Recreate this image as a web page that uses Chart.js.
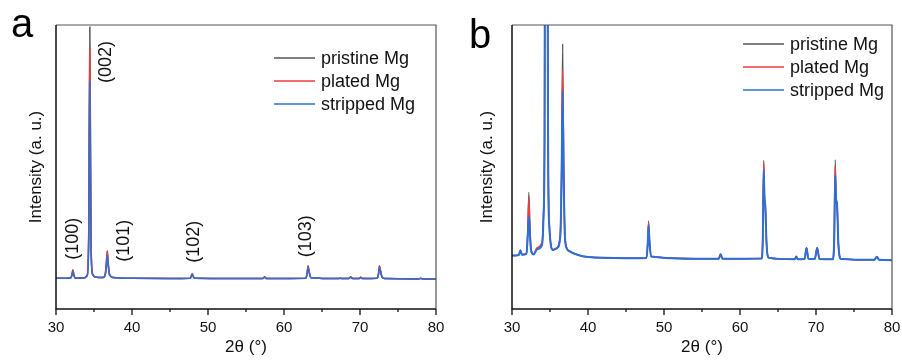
<!DOCTYPE html>
<html>
<head>
<meta charset="utf-8">
<script src="https://cdn.jsdelivr.net/npm/chart.js@4.4.1/dist/chart.umd.min.js"></script>
<style>
	html, body { margin: 0; padding: 0; background: #fff; }
	#wrap { position: relative; width: 902px; height: 360px; }
	.panel { position: absolute; top: 0; width: 451px; height: 360px; }
</style>
</head>
<body>
<div id="wrap">
	<div class="panel" style="left:0"><canvas id="panel-a" width="451" height="360"></canvas></div>
	<div class="panel" style="left:451px"><canvas id="panel-b" width="451" height="360"></canvas></div>
</div>
<script>
const seriesLabels = ["pristine Mg", "plated Mg", "stripped Mg"];
const seriesColors = ["#555555", "#f23b3b", "#2c6fd8"];

const xMajorTicks = [30, 40, 50, 60, 70, 80];
const xMinorTicks = [35, 45, 55, 65, 75];

// panel a: full scale
const aX = [30, 31.5, 31.95, 32.1, 32.22, 32.35, 32.5, 33.6, 34.1, 34.3, 34.45, 34.6, 34.8, 35.3, 36.2, 36.5, 36.63, 36.75, 36.88, 37.05, 37.5, 40, 45, 47.65, 47.8, 47.92, 48.05, 48.3, 55, 57.2, 57.45, 57.7, 62.85, 63.03, 63.17, 63.3, 63.55, 67.2, 67.4, 67.6, 68.5, 68.78, 69.05, 69.85, 70.1, 70.35, 72.25, 72.43, 72.56, 72.7, 72.9, 73.25, 77.7, 78.0, 78.3, 80];
const aPristine = [108, 108, 110, 122, 138, 121, 109, 109, 118, 260, 993, 260, 124, 112, 111, 126, 165, 205, 160, 122, 111, 108, 107, 108, 116, 124, 115, 108, 107, 107, 113, 107, 108, 124, 152, 134, 110, 107, 109, 107, 107, 113, 107, 107, 112, 107, 108, 124, 152, 136, 113, 107, 106, 108, 106, 106];
const aPlated = [108, 108, 110, 121, 136, 120, 109, 109, 118, 245, 912, 245, 123, 112, 111, 125, 160, 198, 156, 121, 111, 108, 107, 108, 116, 123, 115, 108, 107, 107, 113, 107, 108, 123, 149, 132, 110, 107, 109, 107, 107, 113, 107, 107, 112, 107, 108, 123, 149, 134, 113, 107, 106, 108, 106, 106];
const aStripped = [108, 108, 110, 119, 131, 118, 109, 109, 117, 225, 800, 225, 122, 112, 111, 123, 150, 187, 150, 120, 111, 108, 107, 108, 115, 122, 114, 108, 107, 107, 112, 107, 108, 121, 145, 130, 110, 107, 108, 107, 107, 112, 107, 107, 111, 107, 108, 121, 144, 131, 112, 107, 106, 107, 106, 106];

// panel b: same patterns, zoomed on y
const bX = [30, 30.9, 31.1, 31.3, 31.9, 32.05, 32.22, 32.35, 32.5, 32.85, 33.3, 33.95, 34.15, 34.28, 34.38, 34.5, 34.62, 34.75, 34.9, 35.4, 35.9, 36.35, 36.52, 36.66, 36.8, 36.95, 37.2, 37.6, 38.5, 40, 45, 47.7, 47.85, 47.97, 48.1, 48.3, 55, 57.2, 57.45, 57.7, 62.85, 63.0, 63.12, 63.22, 63.33, 63.5, 63.8, 67.2, 67.4, 67.6, 68.5, 68.75, 69.0, 69.85, 70.15, 70.45, 72.2, 72.4, 72.53, 72.63, 72.77, 72.95, 73.3, 77.7, 78.0, 78.3, 80];
const bPristine = [188, 190, 206, 191, 194, 260, 411, 300, 210, 192, 211, 228, 330, 600, 2000, 6400, 2000, 600, 300, 208, 214, 260, 480, 932, 520, 270, 215, 203, 192, 183, 179, 180, 230, 310, 240, 185, 177, 177, 193, 177, 178, 260, 523, 400, 367, 230, 180, 175, 185, 175, 176, 216, 177, 176, 216, 176, 175, 260, 525, 400, 370, 230, 176, 173, 184, 173, 172];
const bPlated = [188, 190, 208, 192, 196, 255, 390, 290, 212, 194, 216, 234, 340, 590, 1950, 6200, 1950, 590, 300, 209, 215, 258, 465, 844, 490, 265, 215, 203, 192, 183, 179, 180, 228, 304, 236, 185, 177, 177, 193, 177, 178, 255, 515, 395, 365, 228, 180, 175, 185, 175, 176, 216, 177, 176, 216, 176, 175, 255, 502, 392, 368, 228, 176, 173, 184, 173, 172];
const bStripped = [188, 190, 206, 191, 194, 245, 326, 270, 205, 192, 210, 226, 325, 580, 1900, 6000, 1900, 580, 295, 208, 214, 255, 450, 768, 470, 262, 213, 203, 192, 183, 179, 180, 225, 293, 232, 185, 177, 177, 193, 177, 178, 250, 490, 390, 362, 226, 180, 175, 185, 175, 176, 215, 177, 176, 215, 176, 175, 250, 472, 390, 366, 226, 176, 173, 184, 173, 172];

// peak indexing on panel a
const peakLabels = ["(100)", "(002)", "(101)", "(102)", "(103)"];
const peakLabelX = [32.2, 36.6, 38.95, 48.2, 62.9];
const peakLabelY = [247, 870, 240, 237, 256];

const FONT = '"Liberation Sans", Arial, sans-serif';
Chart.defaults.font.family = FONT;
Chart.defaults.color = "#111";

const xrdDecor = {
	id: "xrdDecor",
	afterDatasetsDraw(chart, args, opts) {
		const { ctx, chartArea: area, scales } = chart;
		ctx.save();

		ctx.strokeStyle = "#555";
		ctx.lineWidth = 1.2;
		ctx.beginPath();
		ctx.moveTo(area.left, area.top);
		ctx.lineTo(area.right, area.top);
		ctx.lineTo(area.right, area.bottom);
		ctx.stroke();

		ctx.strokeStyle = "#111";
		ctx.lineWidth = 1.5;
		ctx.beginPath();
		ctx.moveTo(area.left, area.top);
		ctx.lineTo(area.left, area.bottom);
		ctx.lineTo(area.right, area.bottom);
		ctx.stroke();

		ctx.lineWidth = 1.3;
		[[xMajorTicks, 6], [xMinorTicks, 3]].forEach(([values, len]) => {
			values.forEach((v) => {
				const px = scales.x.getPixelForValue(v);
				ctx.beginPath();
				ctx.moveTo(px, area.bottom);
				ctx.lineTo(px, area.bottom + len);
				ctx.stroke();
			});
		});

		if (opts.peaks) {
			ctx.fillStyle = "#111";
			ctx.font = "18px " + FONT;
			ctx.textAlign = "center";
			ctx.textBaseline = "middle";
			peakLabels.forEach((label, i) => {
				ctx.save();
				ctx.translate(scales.x.getPixelForValue(peakLabelX[i]), scales.y.getPixelForValue(peakLabelY[i]));
				ctx.rotate(-Math.PI / 2);
				ctx.fillText(label, 0, 0);
				ctx.restore();
			});
		}
		ctx.restore();
	},
	afterDraw(chart, args, opts) {
		const { ctx, chartArea: area } = chart;
		ctx.save();

		// legend inside the frame, top right
		const x0 = area.right - opts.legendRight;
		ctx.font = "18px " + FONT;
		ctx.textBaseline = "middle";
		ctx.textAlign = "left";
		seriesLabels.forEach((label, i) => {
			const y = area.top + opts.legendTop + i * 23;
			ctx.strokeStyle = seriesColors[i];
			ctx.lineWidth = 1.5;
			ctx.beginPath();
			ctx.moveTo(x0, y);
			ctx.lineTo(x0 + 41, y);
			ctx.stroke();
			ctx.fillStyle = "#111";
			ctx.fillText(label, x0 + 47, y + 1);
		});

		ctx.font = "40px " + FONT;
		ctx.textBaseline = "alphabetic";
		ctx.fillStyle = "#000";
		ctx.fillText(opts.letter, opts.letterX, opts.letterY);
		ctx.restore();
	},
};

function createPanel(canvasId, x, series, widths, yMax, decor) {
	const datasets = series.map((values, i) => ({
		label: seriesLabels[i],
		data: values.map((v, j) => ({ x: x[j], y: v })),
		borderColor: seriesColors[i],
		borderWidth: widths[i],
		pointRadius: 0,
		cubicInterpolationMode: "monotone",
		order: 3 - i,
	}));

	return new Chart(document.getElementById(canvasId), {
		type: "line",
		data: { datasets },
		options: {
			responsive: false,
			animation: false,
			devicePixelRatio: 1,
			layout: {
				padding: { top: 25, right: decor.padRight, left: 0, bottom: 0 },
			},
			plugins: {
				legend: { display: false },
				tooltip: { enabled: false },
				xrdDecor: decor,
			},
			scales: {
				x: {
					type: "linear",
					min: 30,
					max: 80,
					grid: { display: false, drawTicks: false },
					border: { display: false },
					afterBuildTicks: (scale) => {
						scale.ticks = xMajorTicks.map((v) => ({ value: v }));
					},
					ticks: { padding: 10, font: { size: 15 }, color: "#111" },
					title: {
						display: true,
						text: "2θ (°)",
						font: { size: 17 },
						color: "#111",
						padding: { top: 0, bottom: 2 },
					},
					afterFit: (scale) => {
						scale.height = 51;
						scale.paddingLeft = 0;
						scale.paddingRight = 0;
					},
				},
				y: {
					min: 0,
					max: yMax,
					grid: { display: false, drawTicks: false },
					border: { display: false },
					ticks: { display: false },
					title: {
						display: true,
						text: "Intensity (a. u.)",
						font: { size: 17 },
						color: "#111",
						padding: { top: 26, bottom: 0 },
					},
					afterFit: (scale) => {
						scale.width = decor.axisWidth;
					},
				},
			},
		},
		plugins: [xrdDecor],
	});
}

createPanel("panel-a", aX, [aPristine, aPlated, aStripped], [1.5, 1.5, 1.5], 1000, {
	padRight: 15,
	axisWidth: 56,
	legendRight: 162,
	legendTop: 33,
	letter: "a",
	letterX: 11,
	letterY: 37,
	peaks: true,
});

createPanel("panel-b", bX, [bPristine, bPlated, bStripped], [1.2, 1.5, 2], 1000, {
	padRight: 10,
	axisWidth: 61,
	legendRight: 149,
	legendTop: 19,
	letter: "b",
	letterX: 18,
	letterY: 48,
	peaks: false,
});
</script>
</body>
</html>
